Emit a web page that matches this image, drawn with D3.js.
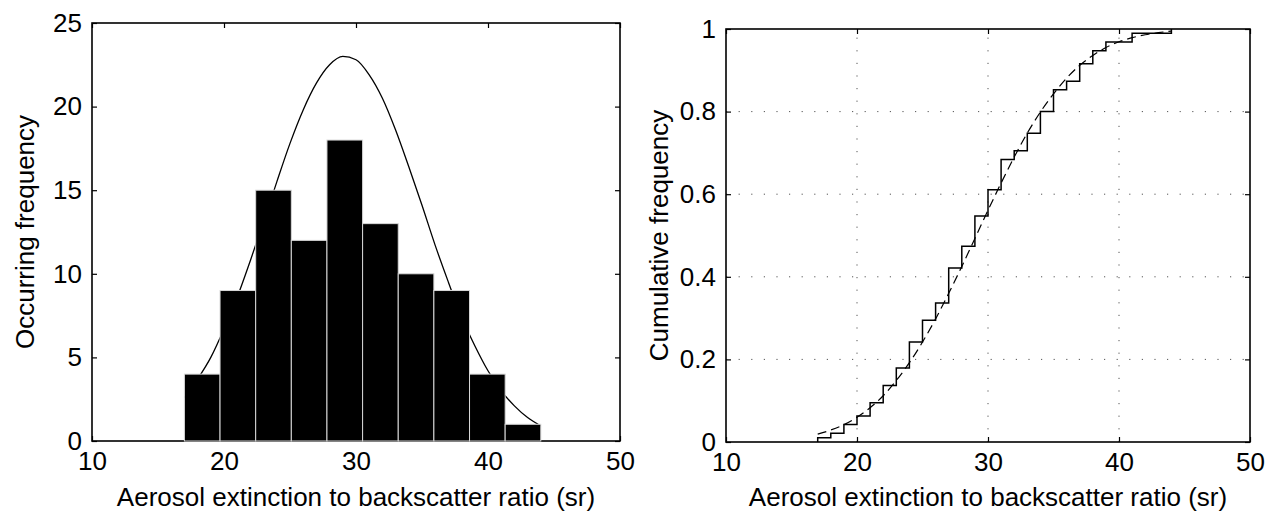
<!DOCTYPE html>
<html>
<head>
<meta charset="utf-8">
<script src="https://cdn.jsdelivr.net/npm/d3@7"></script>
<style>
  body { margin: 0; background: #fff; }
  svg text { font-family: "Liberation Sans", Arial, sans-serif; fill: #000; }
</style>
</head>
<body>
<svg id="chart" width="1266" height="513"></svg>
<script>
// lidar ratio samples: distinct values and how many times each occurs
const ratioValues = [17, 18, 19, 20, 21, 22, 23, 24, 25, 26, 27, 28, 29, 30, 31, 32, 33, 34, 35, 36, 37, 38, 39, 41, 44];
const ratioCounts = [1, 1, 2, 2, 3, 4, 4, 6, 5, 4, 8, 5, 7, 6, 7, 2, 4, 5, 5, 2, 4, 3, 2, 2, 1];

// histogram bins
const binEdges = [17, 19.7, 22.4, 25.1, 27.8, 30.5, 33.2, 35.9, 38.6, 41.3, 44];
const binCounts = [4, 9, 15, 12, 18, 13, 10, 9, 4, 1];

// fitted normal curve over the histogram
const fitX = [17, 18, 19, 20, 21, 22, 23, 24, 25, 26, 27, 28, 29, 30, 31, 32, 33, 34, 35, 36, 37, 38, 39, 40, 41, 42, 43, 44];
const fitFreq = [2.6, 3.7, 5.0, 6.7, 8.6, 10.8, 13.1, 15.5, 17.8, 19.8, 21.4, 22.5, 23.0, 22.8, 21.9, 20.5, 18.6, 16.4, 14.1, 11.7, 9.5, 7.4, 5.7, 4.2, 3.0, 2.1, 1.4, 0.9];
// fitted normal cdf (dashed)
const fitCdf = [0.019, 0.029, 0.042, 0.060, 0.083, 0.112, 0.149, 0.192, 0.242, 0.298, 0.360, 0.425, 0.493, 0.561, 0.627, 0.690, 0.748, 0.799, 0.843, 0.881, 0.912, 0.936, 0.955, 0.969, 0.979, 0.986, 0.991, 0.995];

const xTicks = [10, 20, 30, 40, 50];
const freqTicks = [0, 5, 10, 15, 20, 25];
const cdfTicks = [0, 0.2, 0.4, 0.6, 0.8, 1];

const xTitle = "Aerosol extinction to backscatter ratio (sr)";
const fontSize = 26;
const tick = 5;

const svg = d3.select("#chart");

function frame(g, x, y, xt, yt, fmt) {
  const [x0, x1] = x.range();
  const [y0, y1] = y.range();

  g.append("g").attr("transform", "translate(0," + y0 + ")")
    .call(d3.axisBottom(x).tickValues(xt).tickSize(-tick).tickPadding(11));
  g.append("g").attr("transform", "translate(" + x0 + ",0)")
    .call(d3.axisLeft(y).tickValues(yt).tickSize(-tick).tickPadding(10).tickFormat(fmt));
  g.append("g").attr("transform", "translate(0," + y1 + ")")
    .call(d3.axisTop(x).tickValues(xt).tickSize(-tick).tickFormat(""));
  g.append("g").attr("transform", "translate(" + x1 + ",0)")
    .call(d3.axisRight(y).tickValues(yt).tickSize(-tick).tickFormat(""));

  g.selectAll(".domain").remove();
  g.selectAll(".tick line").attr("stroke", "#000").attr("stroke-width", 1.2);
  g.selectAll(".tick text").attr("font-size", fontSize).attr("fill", "#000");
}

function box(g, x, y) {
  const [x0, x1] = x.range();
  const [y0, y1] = y.range();
  g.append("rect")
    .attr("x", x0).attr("y", y1)
    .attr("width", x1 - x0).attr("height", y0 - y1)
    .attr("fill", "none").attr("stroke", "#000").attr("stroke-width", 1.6);
}

// ---------- left: histogram with normal fit ----------
const xL = d3.scaleLinear().domain([10, 50]).range([92, 620]);
const yL = d3.scaleLinear().domain([0, 25]).range([441, 23]);
const gL = svg.append("g");

box(gL, xL, yL);
frame(gL, xL, yL, xTicks, freqTicks, d3.format("d"));

gL.append("path")
  .datum(fitX.map((d, i) => [d, fitFreq[i]]))
  .attr("fill", "none")
  .attr("stroke", "#000")
  .attr("stroke-width", 1.3)
  .attr("d", d3.line().x(d => xL(d[0])).y(d => yL(d[1])).curve(d3.curveMonotoneX));

gL.selectAll("rect.bar")
  .data(binCounts)
  .enter()
  .append("rect")
  .attr("class", "bar")
  .attr("x", (d, i) => xL(binEdges[i]))
  .attr("y", d => yL(d))
  .attr("width", (d, i) => xL(binEdges[i + 1]) - xL(binEdges[i]))
  .attr("height", d => yL(0) - yL(d))
  .attr("fill", "#000")
  .attr("stroke", "#d8d8d8")
  .attr("stroke-width", 1);

gL.append("text")
  .attr("x", (xL.range()[0] + xL.range()[1]) / 2)
  .attr("y", 506)
  .attr("text-anchor", "middle")
  .attr("font-size", fontSize)
  .text(xTitle);

gL.append("text")
  .attr("transform", "translate(34," + (yL.range()[0] + yL.range()[1]) / 2 + ") rotate(-90)")
  .attr("text-anchor", "middle")
  .attr("font-size", fontSize)
  .text("Occurring frequency");

// ---------- right: cumulative frequency ----------
const xR = d3.scaleLinear().domain([10, 50]).range([726, 1250]);
const yR = d3.scaleLinear().domain([0, 1]).range([442, 29]);
const gR = svg.append("g");

// dotted grid
const grid = gR.append("g")
  .attr("stroke", "#555")
  .attr("stroke-width", 1)
  .attr("stroke-dasharray", "1.2,11.4");
grid.selectAll("line.v")
  .data(xTicks.slice(1, -1))
  .enter().append("line")
  .attr("x1", d => xR(d)).attr("x2", d => xR(d))
  .attr("y1", yR(0)).attr("y2", yR(1));
grid.selectAll("line.h")
  .data(cdfTicks.slice(1, -1))
  .enter().append("line")
  .attr("x1", xR(10)).attr("x2", xR(50))
  .attr("y1", d => yR(d)).attr("y2", d => yR(d));

frame(gR, xR, yR, xTicks, cdfTicks, d => d);

const total = d3.sum(ratioCounts);
const cum = Array.from(d3.cumsum(ratioCounts), c => c / total);
const steps = [[ratioValues[0], 0]].concat(ratioValues.map((v, i) => [v, cum[i]]));

gR.append("path")
  .datum(steps)
  .attr("fill", "none")
  .attr("stroke", "#000")
  .attr("stroke-width", 1.5)
  .attr("d", d3.line().x(d => xR(d[0])).y(d => yR(d[1])).curve(d3.curveStepAfter));

gR.append("path")
  .datum(fitX.map((d, i) => [d, fitCdf[i]]))
  .attr("fill", "none")
  .attr("stroke", "#000")
  .attr("stroke-width", 1.2)
  .attr("stroke-dasharray", "9,5")
  .attr("d", d3.line().x(d => xR(d[0])).y(d => yR(d[1])).curve(d3.curveMonotoneX));

box(gR, xR, yR);

gR.append("text")
  .attr("x", (xR.range()[0] + xR.range()[1]) / 2)
  .attr("y", 506)
  .attr("text-anchor", "middle")
  .attr("font-size", fontSize)
  .text(xTitle);

gR.append("text")
  .attr("transform", "translate(668," + (yR.range()[0] + yR.range()[1]) / 2 + ") rotate(-90)")
  .attr("text-anchor", "middle")
  .attr("font-size", fontSize)
  .text("Cumulative frequency");
</script>
</body>
</html>
